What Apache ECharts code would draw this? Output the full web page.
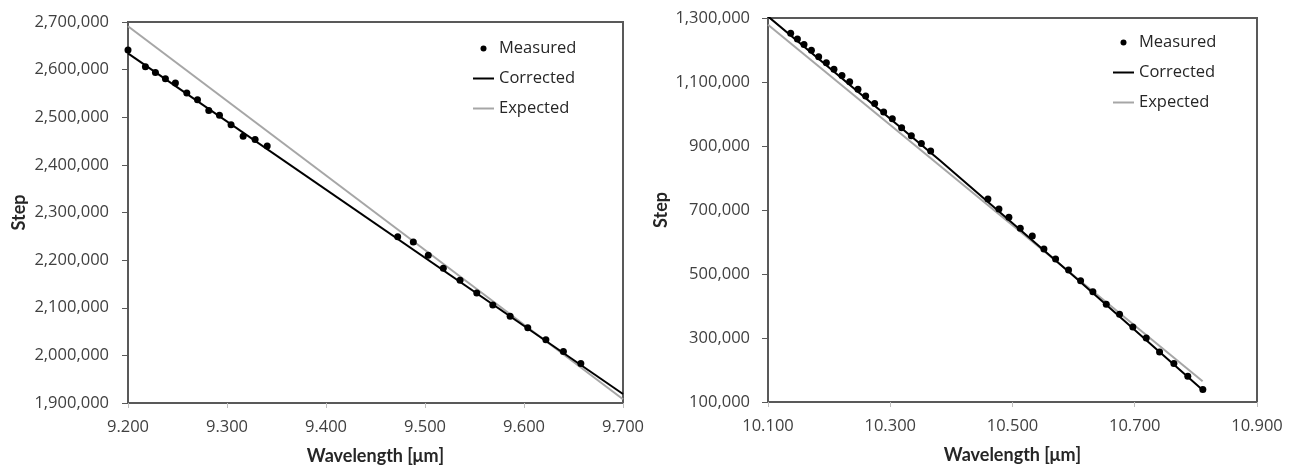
<!DOCTYPE html>
<html>
<head>
<meta charset="utf-8">
<script src="https://cdn.jsdelivr.net/npm/echarts@6/dist/echarts.min.js"></script>
<style>
html, body { margin: 0; padding: 0; background: #ffffff; }
#chart { width: 1296px; height: 470px; }
</style>
</head>
<body>
<div id="chart"></div>
<script>
// Short-wavelength band (9.2 – 9.7 µm): measured steps
const bandAWavelength = [9.200, 9.2176, 9.2277, 9.2378, 9.2479, 9.2594, 9.2702, 9.2816, 9.2924, 9.3041,
  9.3163, 9.3284, 9.3406, 9.4724, 9.4882, 9.5033, 9.5185, 9.5354, 9.5523, 9.5685, 9.5860, 9.6038,
  9.6221, 9.6398, 9.6574];
const bandAStep = [2641000, 2606000, 2594000, 2581000, 2572000, 2551000, 2537000, 2514000, 2504000, 2484000,
  2460000, 2453500, 2439600, 2249000, 2238000, 2210000, 2183000, 2158000, 2131000, 2106000, 2082000, 2058000,
  2033000, 2008000, 1983000];
// Corrected (fitted) and expected relations
const bandACorrectedWl = [9.200, 9.700];
const bandACorrectedStep = [2634000, 1919000];
const bandAExpectedWl = [9.200, 9.700];
const bandAExpectedStep = [2691000, 1908000];

// Long-wavelength band (10.1 – 10.9 µm): measured steps
const bandBWavelength = [10.1371, 10.1481, 10.1589, 10.1710, 10.1829, 10.1955, 10.2079, 10.2210, 10.2336,
  10.2472, 10.2598, 10.2745, 10.2892, 10.3034, 10.3186, 10.3345, 10.3509, 10.3661,
  10.4598, 10.4778, 10.4941, 10.5127, 10.5324, 10.5514, 10.5705, 10.5917, 10.6114, 10.6315, 10.6534,
  10.6751, 10.6969, 10.7188, 10.7406, 10.7640, 10.7868, 10.8114];
const bandBStep = [1252000, 1234500, 1217500, 1199500, 1179000, 1160500, 1140000, 1120500, 1101000,
  1077000, 1056500, 1033000, 1006000, 985000, 957000, 932000, 907500, 884000,
  734400, 703100, 677100, 642700, 618600, 577900, 546600, 512200, 478700, 444300, 405800,
  374500, 334700, 300300, 256500, 220300, 180500, 138900];
const bandBCorrectedWl = [10.100, 10.380, 10.600, 10.812];
const bandBCorrectedStep = [1305000, 857000, 494000, 136000];
const bandBExpectedWl = [10.100, 10.811];
const bandBExpectedStep = [1279000, 165000];

const legendNames = ['Measured', 'Corrected', 'Expected'];
const xTitle = 'Wavelength [\u03bcm]';
const yTitle = 'Step';

const FONT = '"Open Sans", sans-serif';
const TITLE_FONT = 'Lato, sans-serif';
const TEXT = '#404040';
const AXIS = '#595959';
const LINE_ICON = 'path://M0,0H21V2H0Z';

function pairs(xs, ys) { return xs.map((x, i) => [x, ys[i]]); }
function thousands(v) { return Math.round(v).toLocaleString('en-US'); }

function xAxisFor(gridIndex, min, max, interval) {
  return {
    type: 'value', gridIndex, min, max, interval,
    name: xTitle, nameLocation: 'middle', nameGap: 44,
    nameTextStyle: { fontFamily: TITLE_FONT, fontSize: 18, fontWeight: 'bold', color: '#262626' },
    axisLine: { show: true, lineStyle: { color: AXIS, width: 2 } },
    axisTick: { show: true, length: 5, lineStyle: { color: '#bfbfbf' } },
    axisLabel: { margin: 16, fontFamily: FONT, fontSize: 16.5, color: TEXT,
      formatter: v => v.toFixed(3) },
    splitLine: { show: false }
  };
}
function yAxisFor(gridIndex, min, max, interval, gap, margin) {
  return {
    type: 'value', gridIndex, min, max, interval,
    name: yTitle, nameLocation: 'middle', nameGap: gap,
    nameTextStyle: { fontFamily: TITLE_FONT, fontSize: 18, fontWeight: 'bold', color: '#262626' },
    axisLine: { show: true, lineStyle: { color: AXIS, width: 2 } },
    axisTick: { show: true, length: 6, lineStyle: { color: AXIS } },
    axisLabel: { margin, fontFamily: FONT, fontSize: 16.5, color: TEXT, formatter: thousands },
    splitLine: { show: false }
  };
}
function legendAt(left, top) {
  return {
    orient: 'vertical', left, top, padding: 0, itemGap: 13, itemWidth: 21, itemHeight: 6,
    data: [
      { name: 'Measured', icon: 'circle' },
      { name: 'Corrected', icon: LINE_ICON },
      { name: 'Expected', icon: LINE_ICON }
    ],
    textStyle: { fontFamily: FONT, fontSize: 16.5, color: '#262626' },
    selectedMode: false
  };
}
function seriesFor(idx, wl, st, cw, cs, ew, es) {
  return [
    { name: 'Expected', type: 'line', xAxisIndex: idx, yAxisIndex: idx, data: pairs(ew, es),
      symbol: 'none', lineStyle: { color: '#a6a6a6', width: 2 }, itemStyle: { color: '#a6a6a6' },
      silent: true, z: 2 },
    { name: 'Corrected', type: 'line', xAxisIndex: idx, yAxisIndex: idx, data: pairs(cw, cs),
      symbol: 'none', lineStyle: { color: '#000000', width: 2 }, itemStyle: { color: '#000000' },
      silent: true, z: 3 },
    { name: 'Measured', type: 'scatter', xAxisIndex: idx, yAxisIndex: idx, data: pairs(wl, st),
      symbol: 'circle', symbolSize: 7, itemStyle: { color: '#000000', opacity: 1 }, silent: true, z: 4 }
  ];
}

const chart = echarts.init(document.getElementById('chart'), null, { renderer: 'canvas' });
chart.setOption({
  animation: false,
  backgroundColor: '#ffffff',
  grid: [
    { left: 128, top: 22, width: 495, height: 384, show: true, borderColor: AXIS, borderWidth: 2,
      backgroundColor: 'transparent' },
    { left: 768, top: 18, width: 489, height: 384, show: true, borderColor: AXIS, borderWidth: 2,
      backgroundColor: 'transparent' }
  ],
  legend: [legendAt(473, 40), legendAt(1113, 34)],
  xAxis: [xAxisFor(0, 9.2, 9.7, 0.1), xAxisFor(1, 10.1, 10.9, 0.2)],
  yAxis: [yAxisFor(0, 1900000, 2700000, 100000, 100, 19), yAxisFor(1, 100000, 1300000, 200000, 98, 18)],
  series: [
    ...seriesFor(0, bandAWavelength, bandAStep, bandACorrectedWl, bandACorrectedStep, bandAExpectedWl, bandAExpectedStep),
    ...seriesFor(1, bandBWavelength, bandBStep, bandBCorrectedWl, bandBCorrectedStep, bandBExpectedWl, bandBExpectedStep)
  ]
});
</script>
</body>
</html>
